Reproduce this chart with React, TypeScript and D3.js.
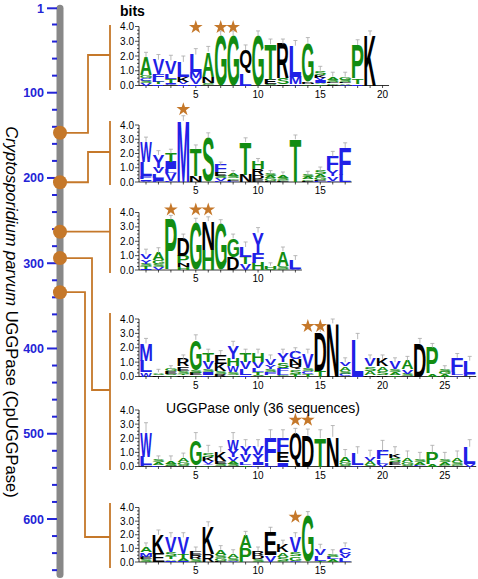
import React from 'react';
import * as d3 from 'd3';

const FONT = "'Liberation Sans', Arial, Helvetica, sans-serif";

// ---------- main protein axis ----------
const axisMajorTicks = [1, 100, 200, 300, 400, 500, 600];
const axisMinorTicks = [20, 40, 60, 80, 120, 140, 160, 180, 220, 240, 260, 280, 320, 340, 360, 380,
  420, 440, 460, 480, 520, 540, 560, 580, 620, 640, 660];
const motifResidues = [147, 205, 263, 294, 334];

// ---------- logo data (each column listed top -> bottom, heights in bits) ----------
const logo1Cols = [
  'A1.2 G.2 C.2 S.15 V.15', 'V1.0 F.3 L.2 T.15 I.1', 'V.9 L.35 T.25 I.1 C.1', 'L1.05 K.3 V.15 I.1',
  'L1.2 M.4 V.4 I.1', 'A1.7 N.4 S.1 G.1', 'G3.4', 'G3.4', 'Q1.6 L.8', 'G3.4', 'T2.4 E.3 S.1',
  'R2.3 S.4 E.1', 'L2.1 M.5 V.1', 'G2.6 D.1 N.1 A.1', 'S.3 K.2 V.15 I.15 A.1 T.1',
  'A.2 S.15 E.1 G.1 D.05', 'G.2 S.15 E.1 A.1 V.05', 'P2.3 T.35 I.1', 'K3.4', ''
];
const logo1Err = [0.35, 0.35, 0.35, 0.4, 0.4, 0.35, 0.3, 0.3, 0.35, 0.3, 0.35, 0.35, 0.35, 0.35, 0.3, 0.3, 0.3, 0.35, 0.3, 0];
const logo1Stars = [5, 7, 8];
const logo1StarBits = 3.95;

const logo2Cols = [
  'W1.4 L1.0 F.2 I.1 V.1', 'Y.9 V.4 L.3 I.2 F.1', 'T.6 I.5 L.3 V.5 F.1', 'M4.3', 'T1.9 N.4', 'S3.1',
  'F.5 E.3 S.15 V.15 L.1', 'A.2 S.15 G.1 E.1 L.05', 'T2.3 N.5', 'H.5 R.4 D.3 E.2', 'S.2 A.15 G.15 E.1',
  'A.2 S.15 G.1 E.05', 'T3.0', 'S.2 A.15 G.1 E.1', 'S.25 A.2 G.2 E.1 L.05', 'F1.0 Y.4 V.3 L.1', 'F1.9 L.5'
];
const logo2Err = [0.35, 0.3, 0.3, 0.35, 0.3, 0.35, 0.2, 0.2, 0.3, 0.25, 0.2, 0.2, 0.3, 0.2, 0.25, 0.35, 0.35];
const logo2Stars = [4];
const logo2StarBits = 5.1;

const logo3Cols = [
  'V.35 Y.3 S.2 T.15 I.1', 'A.5 G.3 S.2 V.2', 'P3.5', 'D1.2 P.5 N.3 H.2', 'G3.3', 'N2.0 H1.4', 'G3.2',
  'G1.3 D.9', 'L.7 T.5 V.4', 'Y1.4 F.7 H.5', 'H.2 S.1', 'A1.0 S.2 G.1', 'L.6 V.1'
];
const logo3Err = [0.35, 0.35, 0.3, 0.3, 0.3, 0.3, 0.3, 0.3, 0.35, 0.35, 0.2, 0.3, 0.3];
const logo3Stars = [3, 5, 6];
const logo3StarBits = 4.2;

const logo4Cols = [
  'M1.2 L.8 W.3', 'A.1 S.1 E.1', 'G.15 E.15 S.1 A.1', 'R.5 E.3 S.2 T.1 K.1', 'G2.1 S.2 E.15 A.1',
  'T.6 V.5 S.2 I.2 L.1', 'E.6 K.5 S.2 R.2', 'Y.9 H.5 W.4 S.2 A.1', 'T.6 V.5 L.4 I.1', 'H.6 V.4 L.3 T.2 S.1',
  'V.4 Y.3 S.2 F.2 A.1', 'Y.6 S.4 F.3 L.2 G.1', 'C.5 N.4 Q.3 S.3 T.2', 'V1.0 S.2 C.2 T.2', 'D2.7 T.4',
  'N3.7', 'V.3 A.3 S.2 C.2', 'L2.6', 'V.5 S.3 A.3 R.1', 'K.5 A.3 S.3 R.1', 'V.5 S.2 A.2 T.1',
  'A.6 V.3 S.2', 'D2.3', 'P1.8 A.2', 'S.2 G.15 A.15', 'F1.0 L.2 Y.1', 'L.9 F.2'
];
const logo4Err = [0.35, 0.2, 0.25, 0.3, 0.35, 0.3, 0.3, 0.35, 0.3, 0.3, 0.3, 0.3, 0.3, 0.3, 0.35,
  0.3, 0.3, 0.4, 0.3, 0.3, 0.3, 0.3, 0.35, 0.3, 0.25, 0.3, 0.3];
const logo4Stars = [14, 15];
const logo4StarBits = 3.5;

const logo5Cols = [
  'W1.7 L.6 F.1', 'S.2 A.2 L.1', 'A.2 S.15 G.05', 'A.3 G.2 S.1', 'G1.8 A.1', 'S.3 K.3 V.2 Y.1 A.1',
  'K.6 E.2 S.2', 'W.7 Y.5 V.3 A.2 S.2', 'Y.6 V.5 L.2 T.1', 'V.6 Y.5 I.2 L.1', 'F1.7 L.3', 'F1.0 E.7 I.3',
  'Q2.3', 'D2.2', 'T2.0', 'N2.1', 'A.4 G.2 S.1', 'L.8 V.1', 'V.3 A.3 S.1', 'F.6 L.3 V.2',
  'K.3 S.3 E.2 R.1', 'A.3 G.2 S.1', 'S.2 A.2 F.1', 'P.8 A.2', 'S.2 A.2 G.1', 'A.3 S.2 G.1', 'L1.2 V.2'
];
const logo5Err = [0.7, 0.25, 0.35, 0.35, 0.5, 0.5, 0.4, 0.5, 0.5, 0.5, 0.6, 0.6, 0.4, 0.45, 0.6, 0.8,
  0.5, 0.5, 0.45, 0.75, 0.5, 0.5, 0.5, 0.5, 0.5, 0.5, 0.5];
const logo5Stars = [13, 14];
const logo5StarBits = 3.3;

const logo6Cols = [
  'A.4 M.3 E.2 S.2', 'K1.4 E.6', 'V1.1 S.3 T.2 A.1 I.1', 'V1.2 T.3 A.2 I.1', 'E.3 R.3 S.2', 'K2.0 R.6',
  'A.4 S.2 G.2 E.1', 'A.3 S.2 V.1', 'A.9 P1.0', 'R.3 D.3 S.2', 'E1.7 V.5', 'K.6 A.3 S.3 G.1',
  'V1.1 S.3 G.3 C.1', 'G3.4', 'V.5 L.4 T.1', 'S.2 L.2 A.2', 'C.5 V.3 L.3'
];
const logo6Err = [0.3, 0.35, 0.35, 0.35, 0.3, 0.35, 0.3, 0.3, 0.35, 0.3, 0.35, 0.3, 0.35, 0.3, 0.3, 0.3, 0.3];
const logo6Stars = [13];
const logo6StarBits = 3.3;

const subsetTitle = 'UGGPase only (36 sequences)';
const bitTicks = [0, 1, 2, 3, 4];

// ---------- styling ----------
const ORANGE = '#c5782a';
const AXIS_BLUE = '#2424d6';
const BLUE = '#2020e6';
const GREEN = '#128c12';
const BLACK = '#000000';

const colorOf = (ch: string) => {
  if ('VLIMFWYC'.includes(ch)) return BLUE;
  if ('AGPSTH'.includes(ch)) return GREEN;
  return BLACK;
};

const metricsCache: Record<string, { l: number; r: number; a: number; d: number }> = {};
function glyph(ch: string) {
  if (!metricsCache[ch]) {
    const ctx = document.createElement('canvas').getContext('2d')!;
    ctx.font = `bold 100px ${FONT}`;
    const m = ctx.measureText(ch);
    metricsCache[ch] = {
      l: m.actualBoundingBoxLeft, r: m.actualBoundingBoxRight,
      a: m.actualBoundingBoxAscent, d: m.actualBoundingBoxDescent,
    };
  }
  return metricsCache[ch];
}

function parseCol(s: string) {
  if (!s) return [] as { ch: string; h: number }[];
  return s.split(' ').map((t) => ({ ch: t[0], h: parseFloat(t.slice(1)) }));
}

// layout of each logo panel
type Panel = {
  cols: string[]; err: number[]; stars: number[]; starBits: number;
  yZero: number; yFour: number;
};
const panels: Panel[] = [
  { cols: logo1Cols, err: logo1Err, stars: logo1Stars, starBits: logo1StarBits, yZero: 85.5, yFour: 26.5 },
  { cols: logo2Cols, err: logo2Err, stars: logo2Stars, starBits: logo2StarBits, yZero: 182, yFour: 125 },
  { cols: logo3Cols, err: logo3Err, stars: logo3Stars, starBits: logo3StarBits, yZero: 270, yFour: 212.5 },
  { cols: logo4Cols, err: logo4Err, stars: logo4Stars, starBits: logo4StarBits, yZero: 376.5, yFour: 319 },
  { cols: logo5Cols, err: logo5Err, stars: logo5Stars, starBits: logo5StarBits, yZero: 466.5, yFour: 410 },
  { cols: logo6Cols, err: logo6Err, stars: logo6Stars, starBits: logo6StarBits, yZero: 562, yFour: 507.5 },
];

// connectors: dot index -> bracket
const connectors = [
  { dot: 0, elbowX: 88, joinY: 55, bTop: 25, bBot: 90 },
  { dot: 1, elbowX: 88, joinY: 152, bTop: 121, bBot: 185 },
  { dot: 2, elbowX: null as number | null, joinY: null as number | null, bTop: 208, bBot: 273 },
  { dot: 3, elbowX: 92, joinY: 390, bTop: 313, bBot: 470 },
  { dot: 4, elbowX: 85, joinY: 537, bTop: 503, bBot: 568 },
];

const AXIS_X = 60;
const BRACKET_X = 110;
const LOGO_AXIS_X = 139;

const yRes = d3.scaleLinear().domain([1, 600]).range([8.3, 519]);
const starPath = d3.symbol(d3.symbolStar, 58)()!;

function Logo({ p, idx }: { p: Panel; idx: number }) {
  const n = p.cols.length;
  const x = d3.scaleLinear().domain([1, 20]).range([146, 146 + 19 * 12.45]);
  const y = d3.scaleLinear().domain([0, 4]).range([p.yZero, p.yFour]);
  const cw = 11.6;
  const xEnd = x(n) + 6.5;
  const minor = d3.range(0, 4.001, 0.25);
  return (
    <g>
      {/* y axis */}
      <line x1={LOGO_AXIS_X} x2={LOGO_AXIS_X} y1={y(0)} y2={y(4)} stroke="#000" strokeWidth={0.8} />
      {minor.map((b) => (
        <line key={'m' + b} x1={LOGO_AXIS_X - (Number.isInteger(b) ? 4 : 2)} x2={LOGO_AXIS_X}
          y1={y(b)} y2={y(b)} stroke="#000" strokeWidth={0.7} />
      ))}
      {bitTicks.map((b) => (
        <text key={'t' + b} x={LOGO_AXIS_X - 5} y={y(b)} dy="0.35em" textAnchor="end"
          fontSize={10} fontFamily={FONT} fill="#000">{b.toFixed(1)}</text>
      ))}
      {/* x axis */}
      <line x1={LOGO_AXIS_X} x2={xEnd} y1={y(0)} y2={y(0)} stroke="#000" strokeWidth={0.8} />
      {d3.range(1, n + 1).map((i) => (
        <line key={'xt' + i} x1={x(i)} x2={x(i)} y1={y(0)} y2={y(0) + 2.5} stroke="#000" strokeWidth={0.7} />
      ))}
      {d3.range(5, n + 1, 5).map((i) => (
        <text key={'xl' + i} x={x(i)} y={y(0) + 12} textAnchor="middle" fontSize={10}
          fontFamily={FONT} fill="#000">{i}</text>
      ))}
      {/* letters */}
      {p.cols.map((c, ci) => {
        const stack = parseCol(c).reverse();
        let acc = 0;
        const cx = x(ci + 1);
        const els = stack.map((s, si) => {
          const y0 = y(acc);
          acc += s.h;
          const y1 = y(acc);
          const h = y0 - y1;
          if (h < 0.4) return null;
          const g = glyph(s.ch);
          const w = g.l + g.r;
          const gh = g.a + g.d;
          return (
            <g key={si} transform={`translate(${cx - cw / 2},${y1}) scale(${cw / w},${h / gh})`}>
              <text x={g.l} y={g.a} fontSize={100} fontWeight="bold" fontFamily={FONT}
                fill={colorOf(s.ch)}>{s.ch}</text>
            </g>
          );
        });
        const e = p.err[ci];
        const top = acc;
        return (
          <g key={'c' + ci}>
            {els}
            {e > 0 && top > 0 && (
              <g stroke="#a8a8a8" strokeWidth={0.8}>
                <line x1={cx} x2={cx} y1={y(top)} y2={y(top + e)} />
                <line x1={cx - 2} x2={cx + 2} y1={y(top + e)} y2={y(top + e)} />
              </g>
            )}
          </g>
        );
      })}
      {p.stars.map((s) => (
        <path key={'s' + s} d={starPath} transform={`translate(${x(s)},${y(p.starBits)})`} fill={ORANGE} />
      ))}
    </g>
  );
}

export default function App() {
  const dotYs = motifResidues.map((r) => yRes(r));
  return (
    <svg width={478} height={579} style={{ position: 'absolute', left: 0, top: 0, background: '#fff' }}
      fontFamily={FONT}>
      {/* rotated axis title */}
      <text transform={`translate(12,312) rotate(90)`} textAnchor="middle" dominantBaseline="central"
        fontSize={16.5} fill="#000" fontFamily={FONT}>
        <tspan fontStyle="italic">Cryptosporidium parvum</tspan> UGGPase (CpUGGPase)
      </text>

      {/* main axis */}
      <line x1={AXIS_X} x2={AXIS_X} y1={yRes(1)} y2={yRes(665)} stroke="#888" strokeWidth={7}
        strokeLinecap="round" />
      {axisMajorTicks.map((t) => (
        <g key={'M' + t}>
          <line x1={AXIS_X - 13} x2={AXIS_X - 3} y1={yRes(t)} y2={yRes(t)} stroke={AXIS_BLUE} strokeWidth={2} />
          <text x={AXIS_X - 16} y={yRes(t)} dy="0.36em" textAnchor="end" fontSize={12.5} fontWeight="bold"
            fill={AXIS_BLUE} fontFamily={FONT}>{t}</text>
        </g>
      ))}
      {axisMinorTicks.map((t) => (
        <line key={'m' + t} x1={AXIS_X - 8} x2={AXIS_X - 3} y1={yRes(t)} y2={yRes(t)} stroke={AXIS_BLUE}
          strokeWidth={2} />
      ))}

      {/* connectors */}
      {connectors.map((c, i) => {
        const dy = dotYs[c.dot];
        const d = c.elbowX == null
          ? `M${AXIS_X},${dy}H${BRACKET_X}`
          : `M${AXIS_X},${dy}H${c.elbowX}V${c.joinY}H${BRACKET_X}`;
        return (
          <g key={'con' + i}>
            <path d={d} fill="none" stroke={ORANGE} strokeWidth={1.8} />
            <line x1={BRACKET_X} x2={BRACKET_X} y1={c.bTop} y2={c.bBot} stroke={ORANGE} strokeWidth={1.8} />
          </g>
        );
      })}
      {dotYs.map((y, i) => (
        <circle key={'dot' + i} cx={AXIS_X} cy={y} r={7} fill={ORANGE} />
      ))}

      {/* logos */}
      <text x={120} y={16} fontSize={14} fontWeight="bold" fontFamily={FONT}>bits</text>
      {panels.map((p, i) => <Logo key={i} p={p} idx={i} />)}
      <text x={263} y={413} textAnchor="middle" fontSize={14} fontFamily={FONT}>{subsetTitle}</text>
    </svg>
  );
}
